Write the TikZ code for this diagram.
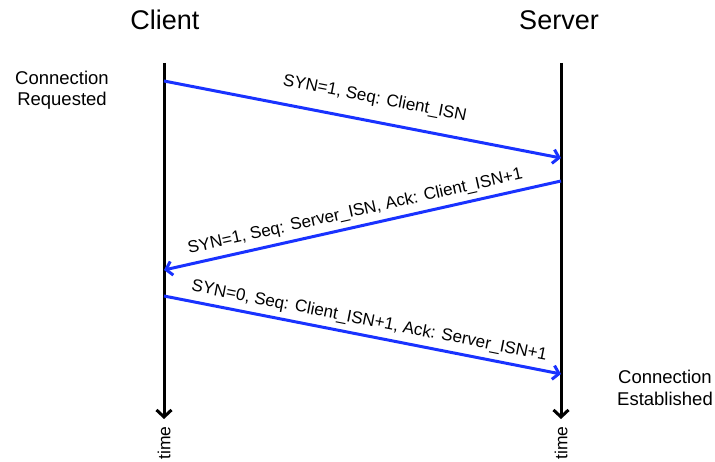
\documentclass[tikz,border=0pt]{standalone}
\usepackage{fontspec}
\setmainfont{Liberation Sans}
\usetikzlibrary{arrows.meta}
\definecolor{msgblue}{RGB}{25,50,255}
\tikzset{
  head/.style={font=\fontsize{27}{32}\selectfont, inner sep=0pt},
  note/.style={font=\fontsize{18.5}{21.5}\selectfont, align=center, inner sep=0pt},
  timelabel/.style={font=\fontsize{17.5}{20}\selectfont, rotate=90, inner sep=0pt},
  timeline/.style={line width=3pt, -{Straight Barb[length=7pt,width=15pt]}},
  msg/.style={msgblue, line width=3pt, -{Straight Barb[length=6pt,width=14pt]}},
  msglabel/.style={font=\fontsize{17}{20}\selectfont, sloped, text=black}
}
\begin{document}
\begin{tikzpicture}[x=1pt,y=-1pt]
  \useasboundingbox (0,0) rectangle (715,462);
  % hosts
  \node[head] (client) at (165,20) {Client};
  \node[head] (server) at (559,20) {Server};
  \coordinate (ctop) at (164,63);
  \coordinate (cbot) at (164,419);
  \coordinate (stop) at (561,63);
  \coordinate (sbot) at (561,419);
  \draw[timeline] (ctop) -- (cbot);
  \draw[timeline] (stop) -- (sbot);
  \node[timelabel] (ctime) at (164,443) {time};
  \node[timelabel] (stime) at (561,443) {time};
  % handshake
  \coordinate (c1) at (164,81);
  \coordinate (s1) at (561,158);
  \coordinate (s2) at (561,181);
  \coordinate (c2) at (164,270);
  \coordinate (c3) at (164,296);
  \coordinate (s3) at (561,374);
  \draw[msg] (c1) -- node[msglabel, above=10pt, pos=.52] (syn) {SYN=1, Seq: Client\_ISN} (s1);
  \draw[msg] (s2) -- node[msglabel, above=2pt, pos=.51] (synack) {SYN=1, Seq: Server\_ISN, Ack: Client\_ISN+1} (c2);
  \draw[msg] (c3) -- node[msglabel, above=2pt, pos=.51] (ack) {SYN=0, Seq: Client\_ISN+1, Ack: Server\_ISN+1} (s3);
  \node[note] (req) at (62,90) {Connection\\Requested};
  \node[note] (est) at (665,388) {Connection\\Established};
\end{tikzpicture}
\end{document}
